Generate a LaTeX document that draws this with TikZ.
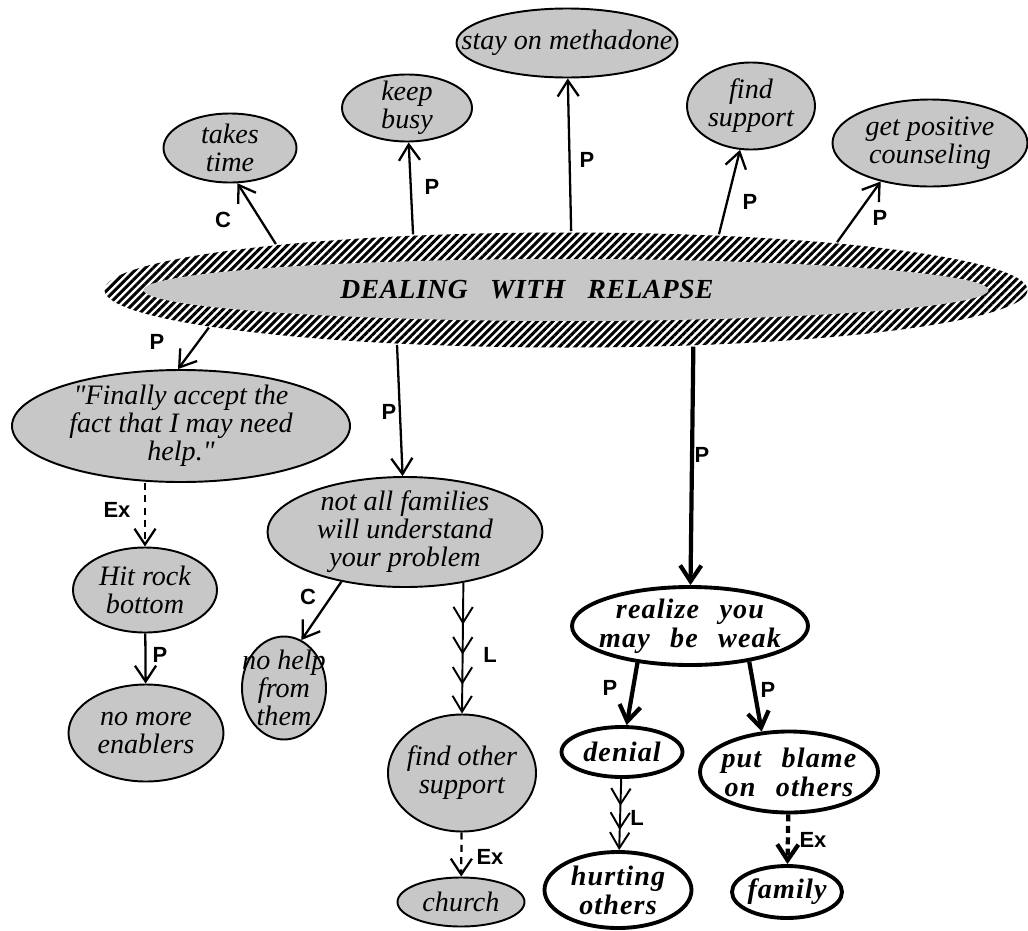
\documentclass[tikz,border=0pt]{standalone}
\usepackage{fontspec}
\setmainfont{Liberation Serif}
\newfontfamily\labelfont{Liberation Sans}
\newfontfamily\spacedfont[LetterSpace=4,WordSpace=2.5]{Liberation Serif}
\newfontfamily\titlefont[LetterSpace=2,WordSpace=3]{Liberation Serif}
\usetikzlibrary{shapes.geometric,arrows.meta,patterns.meta,decorations.markings}

\tikzset{dims/.style 2 args={minimum width=#1*0.02cm, minimum height=#2*0.02cm}}
\newcommand\dq{\XeTeXglyph\XeTeXcharglyph"22\relax}

\begin{document}
\begin{tikzpicture}[x=0.02cm,y=-0.02cm]
        \tikzstyle{idea}=[ellipse, draw=black, line width=1.1pt, fill=black!22, inner sep=-30pt, align=center, font=\fontsize{16}{16}\selectfont\itshape]
        \tikzstyle{strong}=[ellipse, draw=black, line width=2.2pt, fill=white, inner sep=-30pt, align=center, font=\fontsize{16}{16.5}\spacedfont\bfseries\itshape]
        \tikzstyle{lab}=[inner sep=0pt, font=\fontsize{12.5}{13}\labelfont\bfseries]
        \tikzstyle{link}=[line width=1.3pt, -{Straight Barb[length=9pt,width=12pt]}]
        \tikzstyle{thick link}=[line width=2.4pt, -{Straight Barb[length=9pt,width=12pt]}]
        \tikzstyle{example}=[link, dash pattern=on 4pt off 3pt]
        \tikzstyle{thick example}=[thick link, dash pattern=on 4pt off 2.5pt]
        \tikzstyle{chain}=[line width=1.1pt, -{Straight Barb[length=9pt,width=11pt]}, postaction={decorate}]
        \useasboundingbox (0,0) rectangle (1028,930);

        % centre
        \node[ellipse, dims={923}{115}, inner sep=-30pt, pattern={Lines[angle=45,distance=3.2pt,line width=1.7pt]},
              path picture={\fill[black!22] (path picture bounding box.center) ellipse [x radius=8.45cm, y radius=0.62cm];}]
              (main) at (566,290) {};
        \node[font=\fontsize{15.7}{16}\titlefont\bfseries\itshape] (title) at (527,290) {DEALING WITH RELAPSE};

        % upper ring
        \node[idea, dims={133}{69}]  (time)  at (230,148) {takes\\time};
        \node[idea, dims={130}{67}]  (busy)  at (407,108) {keep\\busy};
        \node[idea, dims={221}{69}]  (stay)  at (567,43)  {stay on methadone};
        \node[idea, dims={128}{87}]  (supp)  at (751,106) {find\\support};
        \node[idea, dims={195}{87}]  (couns) at (930,143) {get positive\\counseling};

        % lower part
        \node[idea, dims={338}{112}] (fin)    at (181,426) {\dq Finally accept the\\fact that I may need\\help.\dq};
        \node[idea, dims={275}{110}] (fam)    at (405,532) {not all families\\will understand\\your problem};
        \node[idea, dims={144}{85}]  (hit)    at (145,590) {Hit rock\\bottom};
        \node[idea, dims={155}{97}]  (nomore) at (146,733) {no more\\enablers};
        \node[idea, dims={84}{103}]  (nohelp) at (284,688) {no help\\from\\them};
        \node[idea, dims={148}{117}] (fo)     at (462,773) {find other\\support};
        \node[idea, dims={127}{49}]  (church) at (461,902) {church};

        \node[strong, dims={236}{78}] (realize) at (690,626) {realize you\\may be weak};
        \node[strong, dims={121}{50}] (denial)  at (622,752) {denial};
        \node[strong, dims={178}{81}] (blame)   at (789,772) {put blame\\on others};
        \node[strong, dims={147}{76}] (hurt)    at (618,890) {hurting\\others};
        \node[strong, dims={110}{52}] (family)  at (787,892) {family};

        % links
        \draw[link] (main.171) -- (time.282);
        \draw[link] (main.160) -- (busy);
        \draw[link] (main.85) -- (stay);
        \draw[link] (main.20) -- (supp);
        \draw[link] (main.10) -- (couns.218);
        \draw[link] (main.186) -- (fin.93);
        \draw[link] (main.198) -- (fam);
        \draw[thick link] (main.336) -- (realize);
        \draw[example] (fin.south -| hit.north) -- (hit);
        \draw[link] (hit) -- (nomore);
        \draw[link] (fam.218) -- (nohelp.70);
        \draw[chain, decoration={markings,
              mark=at position 0.32 with {\arrow{Straight Barb[length=9pt,width=11pt]}},
              mark=at position 0.55 with {\arrow{Straight Barb[length=9pt,width=11pt]}},
              mark=at position 0.78 with {\arrow{Straight Barb[length=9pt,width=11pt]}}}]
              (fam.319) -- (fo.north);
        \draw[example] (fo) -- (church);
        \draw[thick link] (realize.215) -- (denial);
        \draw[thick link] (realize.329) -- (blame.124);
        \draw[chain, decoration={markings,
              mark=at position 0.38 with {\arrow{Straight Barb[length=9pt,width=11pt]}},
              mark=at position 0.72 with {\arrow{Straight Barb[length=9pt,width=11pt]}}}]
              (denial) -- (hurt);
        \draw[thick example] (blame) -- (family);

        % link labels
        \node[lab] (c1) at (223,220) {C};
        \node[lab] (p1) at (432,187) {P};
        \node[lab] (p2) at (587,160) {P};
        \node[lab] (p3) at (750,202) {P};
        \node[lab] (p4) at (880,218) {P};
        \node[lab] (p5) at (157,342) {P};
        \node[lab] (p6) at (389,412) {P};
        \node[lab] (p7) at (702,455) {P};
        \node[lab] (e1) at (117,510) {Ex};
        \node[lab] (p8) at (160,655) {P};
        \node[lab] (c2) at (308,597) {C};
        \node[lab] (l1) at (490,655) {L};
        \node[lab] (e2) at (490,857) {Ex};
        \node[lab] (p9) at (610,688) {P};
        \node[lab] (p10) at (768,690) {P};
        \node[lab] (l2) at (637,818) {L};
        \node[lab] (e3) at (813,840) {Ex};
\end{tikzpicture}
\end{document}
